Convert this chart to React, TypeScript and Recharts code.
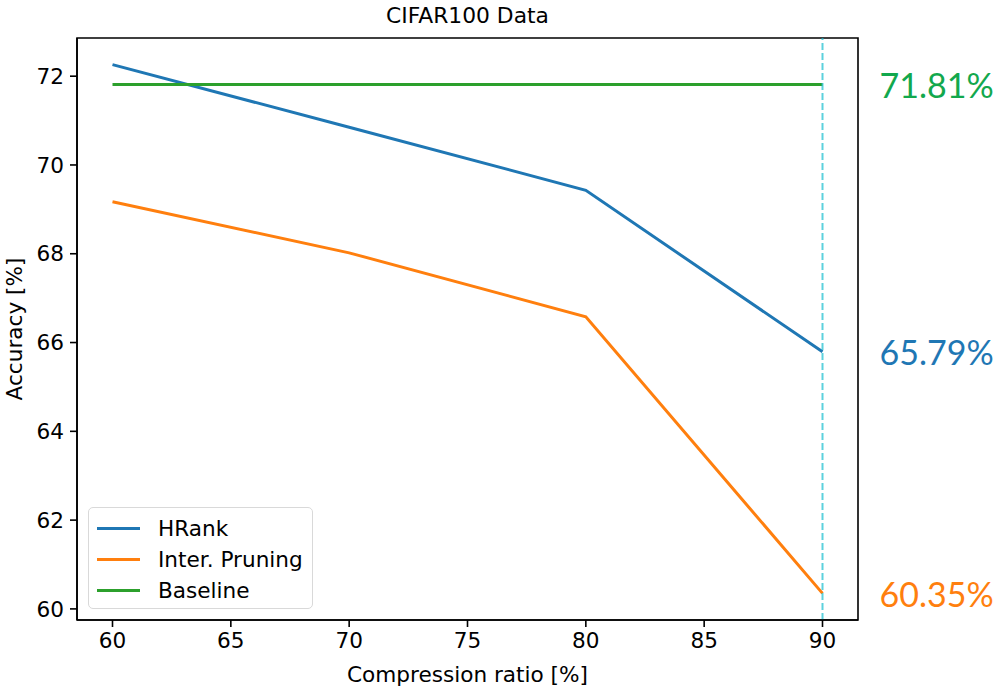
import React from "react";
import {
  LineChart,
  Line,
  XAxis,
  YAxis,
  Legend,
  ReferenceLine,
  ReferenceArea,
  ReferenceDot,
} from "recharts";

// values
const ratios = [60, 70, 80, 90];
const hrank = [72.26, 70.85, 69.43, 65.79];
const interPruning = [69.17, 68.02, 66.58, 60.35];
const baseline = 71.81;
const xTicks = [60, 65, 70, 75, 80, 85, 90];
const yTicks = [60, 62, 64, 66, 68, 70, 72];
const xDomain = [58.5, 91.5];
const yDomain = [59.75, 72.86];
const endLabels = [
  { value: baseline, text: "71.81%", color: "#12a84d" },
  { value: hrank[hrank.length - 1], text: "65.79%", color: "#1f77b4" },
  { value: interPruning[interPruning.length - 1], text: "60.35%", color: "#ff7f0e" },
];

const series = [
  { key: "hrank", name: "HRank", color: "#1f77b4" },
  { key: "inter", name: "Inter. Pruning", color: "#ff7f0e" },
  { key: "baseline", name: "Baseline", color: "#2ca02c" },
];

const data = ratios.map((r, i) => ({
  ratio: r,
  hrank: hrank[i],
  inter: interPruning[i],
  baseline: baseline,
}));

const FONT = "'DejaVu Sans', sans-serif";
const FS = 21.6;

function LegendBox() {
  return (
    <div
      style={{
        border: "1.5px solid #d9d9d9",
        borderRadius: 5,
        background: "rgba(255,255,255,0.85)",
        padding: "5px 8px 4px 8px",
        fontFamily: FONT,
        fontSize: FS,
        boxSizing: "border-box",
        width: 225,
        height: 102,
        textAlign: "left",
        whiteSpace: "nowrap",
      }}
    >
      {series.map((s) => (
        <div key={s.key} style={{ display: "flex", alignItems: "center", height: 31 }}>
          <div style={{ width: 43, height: 3, background: s.color, marginRight: 18 }} />
          <span style={{ color: "#000", lineHeight: 1 }}>{s.name}</span>
        </div>
      ))}
    </div>
  );
}

export default function App() {
  return (
    <div style={{ position: "absolute", left: 0, top: 0, width: 998, height: 688, background: "#fff" }}>
      <div
        style={{
          position: "absolute",
          left: 77,
          width: 781,
          top: 3,
          textAlign: "center",
          fontFamily: FONT,
          fontSize: 21.8,
          color: "#000",
        }}
      >
        CIFAR100 Data
      </div>
      <LineChart
        width={998}
        height={688}
        data={data}
        margin={{ top: 38, right: 140, bottom: 0, left: 0 }}
      >
        <XAxis
          dataKey="ratio"
          type="number"
          domain={xDomain}
          ticks={xTicks}
          allowDataOverflow
          height={68}
          tickSize={7}
          tickMargin={6}
          stroke="#000"
          strokeWidth={1.6}
          tick={{ fill: "#000", fontSize: FS, fontFamily: FONT }}
          label={(props: any) => {
            const vb = props.viewBox;
            return (
              <text
                x={vb.x + vb.width / 2}
                y={vb.y + 62}
                textAnchor="middle"
                fontFamily={FONT}
                fontSize={FS}
                fill="#000"
              >
                Compression ratio [%]
              </text>
            );
          }}
        />
        <YAxis
          type="number"
          domain={yDomain}
          ticks={yTicks}
          allowDataOverflow
          width={77}
          tickSize={7}
          tickMargin={6}
          stroke="#000"
          strokeWidth={1.6}
          tick={{ fill: "#000", fontSize: FS, fontFamily: FONT }}
          label={(props: any) => {
            const vb = props.viewBox;
            const cx = 14;
            const cy = vb.y + vb.height / 2;
            return (
              <text
                x={cx}
                y={cy}
                transform={`rotate(-90 ${cx} ${cy})`}
                textAnchor="middle"
                dominantBaseline="central"
                fontFamily={FONT}
                fontSize={FS}
                fill="#000"
              >
                Accuracy [%]
              </text>
            );
          }}
        />
        <ReferenceArea
          x1={xDomain[0]}
          x2={xDomain[1]}
          y1={yDomain[0]}
          y2={yDomain[1]}
          fill="none"
          fillOpacity={0}
          stroke="#000"
          strokeWidth={1.6}
          strokeOpacity={1}
          ifOverflow="visible"
        />
        {series.map((s) => (
          <Line
            key={s.key}
            type="linear"
            dataKey={s.key}
            name={s.name}
            stroke={s.color}
            strokeWidth={3}
            dot={false}
            activeDot={false}
            isAnimationActive={false}
          />
        ))}
        <ReferenceLine
          x={90}
          stroke="#17becf"
          strokeOpacity={0.7}
          strokeWidth={2}
          strokeDasharray="7 3"
        />
        {endLabels.map((l) => (
          <ReferenceDot
            key={l.text}
            x={90}
            y={l.value}
            r={0}
            fill="none"
            stroke="none"
            ifOverflow="visible"
            label={(props: any) => {
              const vb = props.viewBox;
              return (
                <text
                  x={vb.x + 57}
                  y={vb.y}
                  dominantBaseline="central"
                  fontFamily="Lato, sans-serif"
                  fontSize={34}
                  fill={l.color}
                >
                  {l.text}
                </text>
              );
            }}
          />
        ))}
        <Legend
          layout="vertical"
          align="center"
          verticalAlign="middle"
          content={() => <LegendBox />}
          wrapperStyle={{ position: "absolute", left: 88, top: 507, width: 225, height: 102 }}
        />
      </LineChart>
    </div>
  );
}
